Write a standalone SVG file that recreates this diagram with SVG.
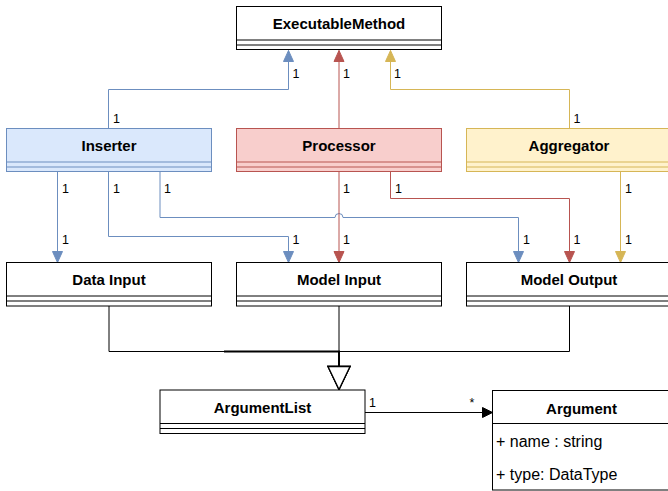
<svg xmlns="http://www.w3.org/2000/svg" width="668" height="491" viewBox="0 0 668 491">
<style>
.title{font-family:"Liberation Sans",Arial,sans-serif;font-size:15px;font-weight:bold;fill:#000;text-anchor:middle}
.field{font-family:"Liberation Sans",Arial,sans-serif;font-size:16px;fill:#000}
.lbl{font-family:"Liberation Sans",Arial,sans-serif;font-size:12.5px;fill:#000}
.blk{fill:#fff;stroke:#000;stroke-width:1}
.blue{fill:#dae8fc;stroke:#6c8ebf;stroke-width:1}
.red{fill:#f8cecc;stroke:#b85450;stroke-width:1}
.yel{fill:#fff2cc;stroke:#d6b656;stroke-width:1}
.e{fill:none;stroke-width:1}
.eb{stroke:#6c8ebf;marker-end:url(#aBlue)}
.er{stroke:#b85450;marker-end:url(#aRed)}
.ey{stroke:#d6b656;marker-end:url(#aYel)}
.ek{stroke:#000;marker-end:url(#aGen)}
</style>
<defs>
<marker id="aBlue" markerUnits="userSpaceOnUse" markerWidth="12" markerHeight="12" refX="11" refY="5" orient="auto" overflow="visible"><path d="M0,0 L11,5 L0,10 Z" fill="#6c8ebf" stroke="#6c8ebf"/></marker>
<marker id="aRed" markerUnits="userSpaceOnUse" markerWidth="12" markerHeight="12" refX="11" refY="5" orient="auto" overflow="visible"><path d="M0,0 L11,5 L0,10 Z" fill="#b85450" stroke="#b85450"/></marker>
<marker id="aYel" markerUnits="userSpaceOnUse" markerWidth="12" markerHeight="12" refX="11" refY="5" orient="auto" overflow="visible"><path d="M0,0 L11,5 L0,10 Z" fill="#d6b656" stroke="#d6b656"/></marker>
<marker id="aBlack" markerUnits="userSpaceOnUse" markerWidth="12" markerHeight="12" refX="10" refY="5" orient="auto" overflow="visible"><path d="M0,0 L10,5 L0,10 Z" fill="#000" stroke="#000"/></marker>
<marker id="aGen" markerUnits="userSpaceOnUse" markerWidth="24" markerHeight="24" refX="23" refY="11" orient="auto" overflow="visible"><path d="M0,0 L23,11 L0,22 Z" fill="#fff" stroke="#000" stroke-width="1.3"/></marker>
</defs>
<rect x="0" y="0" width="668" height="491" fill="#fff"/>

<g id="connectors">
<path class="e eb" d="M108.5,128.5 V89.5 H288.5 V50.5"/>
<path class="e er" d="M339,128.5 V50.5"/>
<path class="e ey" d="M569.5,128.5 V89.5 H390.5 V50.5"/>
<path class="e eb" d="M57.5,171.5 V262.5"/>
<path class="e eb" d="M108.5,171.5 V236.5 H288.5 V262.5"/>
<path class="e eb" d="M160,171.5 V217.5 H335 A4,4 0 0 1 343,217.5 H518.5 V262.5"/>
<path class="e er" d="M339,171.5 V262.5"/>
<path class="e er" d="M390.5,171.5 V198.5 H569.5 V262.5"/>
<path class="e ey" d="M620.5,171.5 V262.5"/>
<path class="e ek" d="M109,306 V351.5 H339 V389.5"/>
<path class="e ek" d="M339,306 V389.5"/>
<path class="e ek" d="M569.5,306 V351.5 H339 V389.5"/>
<path d="M224,351.5 H339 V366" fill="none" stroke="#000" stroke-width="2"/>
<path class="e" stroke="#000" marker-end="url(#aBlack)" d="M365,412.5 H492.5"/>
<g class="lbl">
<text x="292.5" y="77.5">1</text>
<text x="343" y="77.5">1</text>
<text x="394" y="77.5">1</text>
<text x="113" y="122.7">1</text>
<text x="573.5" y="122.7">1</text>
<text x="62" y="193.3">1</text>
<text x="113" y="193.3">1</text>
<text x="164" y="193.3">1</text>
<text x="343" y="193.3">1</text>
<text x="395" y="193.3">1</text>
<text x="625" y="193.3">1</text>
<text x="62" y="244">1</text>
<text x="292.5" y="244">1</text>
<text x="343" y="244">1</text>
<text x="523" y="244">1</text>
<text x="573.5" y="244">1</text>
<text x="625" y="244">1</text>
<text x="369" y="406.7">1</text>
<text x="469.5" y="407">*</text>
</g>
</g>

<g id="ExecutableMethod">
<rect class="blk" x="236.5" y="6.5" width="205" height="43"/>
<path class="blk" d="M236.5,40 H441.5 M236.5,45 H441.5"/>
<text class="title" x="339" y="29">ExecutableMethod</text>
</g>
<g id="Inserter">
<rect class="blue" x="6.5" y="128.5" width="205" height="43"/>
<path class="blue" d="M6.5,162 H211.5 M6.5,167 H211.5"/>
<text class="title" x="109" y="151">Inserter</text>
</g>
<g id="Processor">
<rect class="red" x="236.5" y="128.5" width="205" height="43"/>
<path class="red" d="M236.5,162 H441.5 M236.5,167 H441.5"/>
<text class="title" x="339" y="151">Processor</text>
</g>
<g id="Aggregator">
<rect class="yel" x="466.5" y="128.5" width="205" height="43"/>
<path class="yel" d="M466.5,162 H671.5 M466.5,167 H671.5"/>
<text class="title" x="569" y="151">Aggregator</text>
</g>
<g id="DataInput">
<rect class="blk" x="6.5" y="262.5" width="205" height="43.5"/>
<path class="blk" d="M6.5,296 H211.5 M6.5,301 H211.5"/>
<text class="title" x="109" y="285">Data Input</text>
</g>
<g id="ModelInput">
<rect class="blk" x="236.5" y="262.5" width="205" height="43.5"/>
<path class="blk" d="M236.5,296 H441.5 M236.5,301 H441.5"/>
<text class="title" x="339" y="285">Model Input</text>
</g>
<g id="ModelOutput">
<rect class="blk" x="466.5" y="262.5" width="205" height="43.5"/>
<path class="blk" d="M466.5,296 H671.5 M466.5,301 H671.5"/>
<text class="title" x="569" y="285">Model Output</text>
</g>
<g id="ArgumentList">
<rect class="blk" x="160" y="390" width="205" height="43.5"/>
<path class="blk" d="M160,423.5 H365 M160,428.5 H365"/>
<text class="title" x="262.5" y="413">ArgumentList</text>
</g>
<g id="Argument">
<rect class="blk" x="492.5" y="390.5" width="178" height="99.5"/>
<path class="blk" d="M492.5,423.5 H670.5"/>
<text class="title" x="581.5" y="413.5">Argument</text>
<text class="field" x="496" y="446.5">+ name : string</text>
<text class="field" x="496" y="480">+ type: DataType</text>
</g>
</svg>
